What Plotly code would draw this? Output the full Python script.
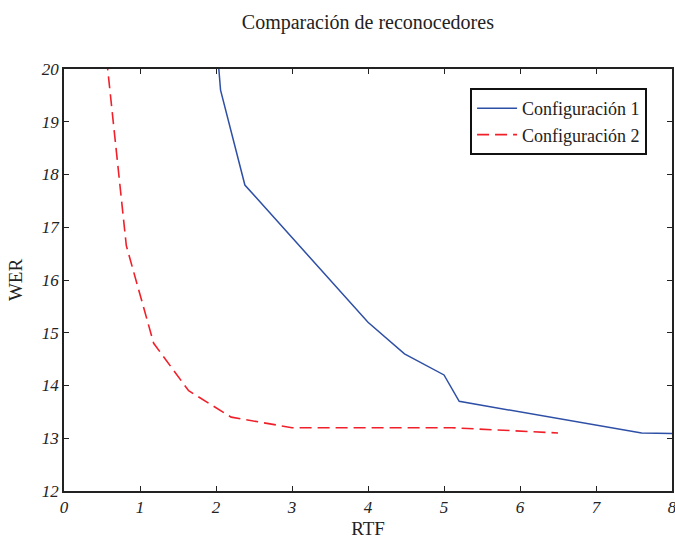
import plotly.graph_objects as go

# Data
rtf_conf1 = [1.98, 2.06, 2.38, 4.0, 4.48, 5.0, 5.2, 7.6, 8.0]
wer_conf1 = [21.0, 19.6, 17.8, 15.2, 14.6, 14.2, 13.7, 13.1, 13.09]

rtf_conf2 = [0.56, 0.82, 1.18, 1.64, 2.2, 3.0, 5.1, 6.5]
wer_conf2 = [20.2, 16.65, 14.8, 13.9, 13.4, 13.2, 13.2, 13.1]

x_ticks = [0, 1, 2, 3, 4, 5, 6, 7, 8]
y_ticks = [12, 13, 14, 15, 16, 17, 18, 19, 20]

serif = "Liberation Serif, DejaVu Serif, serif"

fig = go.Figure()
fig.add_trace(go.Scatter(
    x=rtf_conf1, y=wer_conf1, mode="lines", name="Configuración 1",
    line=dict(color="#2e4fa6", width=1.5)))
fig.add_trace(go.Scatter(
    x=rtf_conf2, y=wer_conf2, mode="lines", name="Configuración 2",
    line=dict(color="#f0202a", width=1.6, dash="12px,6px")))

axis_common = dict(
    showline=True, linecolor="#222222", linewidth=1.5, mirror="ticks",
    ticks="inside", ticklen=5, tickcolor="#222222", tickwidth=1,
    showgrid=False, zeroline=False, automargin=False,
    ticklabeloverflow="allow",
    tickfont=dict(family=serif, size=17, color="#222222", style="italic"),
)

fig.update_layout(
    width=675, height=539,
    margin=dict(l=64, r=3, t=69, b=48),
    paper_bgcolor="white", plot_bgcolor="white",
    title=dict(text="Comparación de reconocedores", x=0.545, xanchor="center",
               y=0.96, yanchor="middle",
               font=dict(family=serif, size=20, color="#222222")),
    xaxis=dict(range=[0, 8], tickvals=x_ticks,
               title=dict(text="RTF", font=dict(family=serif, size=19, color="#222222"), standoff=17),
               **axis_common),
    yaxis=dict(range=[12, 20], tickvals=y_ticks,
               title=dict(text="WER", font=dict(family=serif, size=19, color="#222222"), standoff=14),
               **axis_common),
    legend=dict(x=0.959, y=0.955, xanchor="right", yanchor="top",
                bgcolor="white", bordercolor="#111111", borderwidth=2,
                font=dict(family=serif, size=18, color="#222222"),
                tracegroupgap=0, itemwidth=40),
    showlegend=True,
)

fig.write_html("out.html")
